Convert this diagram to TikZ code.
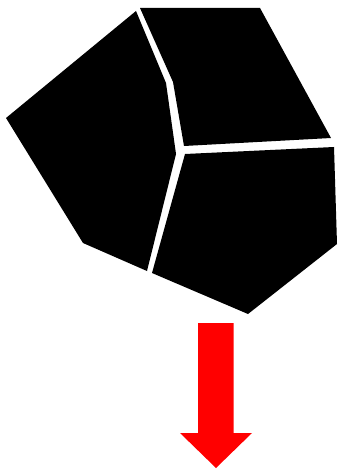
\documentclass[tikz,border=0pt]{standalone}
\begin{document}
\begin{tikzpicture}[x=1pt,y=-1pt,
  piece/.style={fill=black,draw=none},
  arrowshape/.style={fill=red,draw=none}]
\useasboundingbox (0,0) rectangle (338,470);
% left piece
\path[piece] (136,11) -- (6,118) -- (83,243) -- (147,271) -- (176,154) -- (166,83) -- cycle;
% top-right piece
\path[piece] (140,8) -- (260,8) -- (331,138) -- (184,146) -- (173,82) -- cycle;
% bottom-right piece
\path[piece] (185,154) -- (334,147) -- (337,244) -- (248,314) -- (152,273) -- cycle;
% red arrow
\path[arrowshape] (198,323) -- (233.5,323) -- (233.5,433) -- (252,433) -- (216,468) -- (180,433) -- (198,433) -- cycle;
\end{tikzpicture}
\end{document}
